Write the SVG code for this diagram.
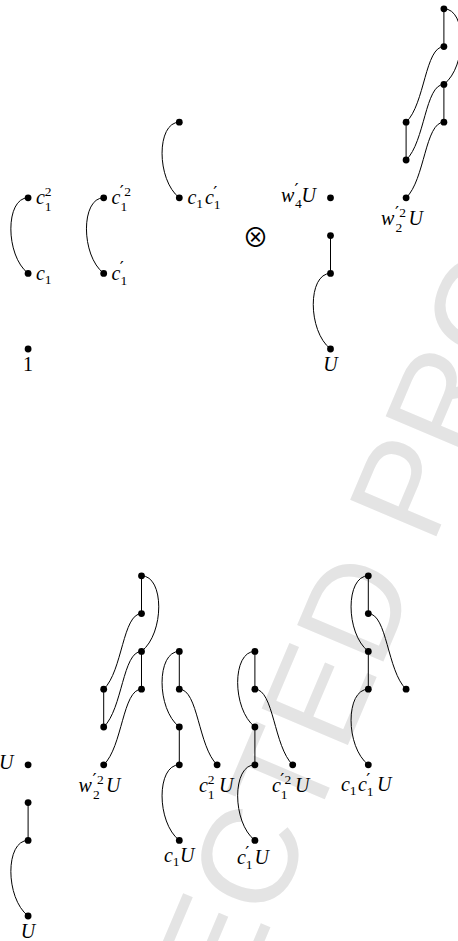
<svg xmlns="http://www.w3.org/2000/svg" width="458" height="941" viewBox="0 0 458 941">
<style>
.wm{font-family:"Liberation Sans",Arial,sans-serif;font-size:136px;fill:#e4e4e4}
.e{fill:none;stroke:#000;stroke-width:1}
.d{fill:#000}
.m{font-family:"Liberation Serif","Times New Roman",serif;font-style:italic;font-size:20px;fill:#000}
.s{font-style:normal;font-size:13.5px}
.p{font-family:"DejaVu Sans",sans-serif;font-style:normal;font-size:18px}
.r{font-family:"Liberation Serif","Times New Roman",serif;font-size:20px;fill:#000}
.o{font-family:"Noto Sans CJK JP","DejaVu Sans",sans-serif;font-size:26px;fill:#000}
</style>
<rect width="458" height="941" fill="#fff"/>
<text class="wm" transform="translate(4,1555) rotate(-67)">UNCORRECTED PROOF</text>

<g id="connectors">
<path class="e" d="M28.1,197.8 C5.1,197.8 5.1,255.4 28.1,273.4"/>
<path class="e" d="M103.7,197.8 C80.7,197.8 80.7,255.4 103.7,273.4"/>
<path class="e" d="M179.3,122.2 C156.3,122.2 156.3,179.8 179.3,197.8"/>
<path class="e" d="M330.5,235.6 V273.4"/>
<path class="e" d="M330.5,273.4 C307.5,273.4 307.5,331 330.5,349"/>
<path class="e" d="M443.9,8.8 V46.6"/>
<path class="e" d="M443.9,8.8 C466.9,8.8 466.9,66.4 443.9,84.4"/>
<path class="e" d="M443.9,46.6 C425,46.6 425,104.2 406.1,122.2"/>
<path class="e" d="M443.9,84.4 C425,84.4 425,142 406.1,160"/>
<path class="e" d="M443.9,122.2 C425,122.2 425,179.8 406.1,197.8"/>
<path class="e" d="M443.9,84.4 V122.2"/>
<path class="e" d="M406.1,122.2 V160"/>

<path class="e" d="M28.1,802.6 V840.4"/>
<path class="e" d="M28.1,840.4 C5.1,840.4 5.1,898 28.1,916"/>
<path class="e" d="M141.5,575.8 V613.6"/>
<path class="e" d="M141.5,575.8 C164.5,575.8 164.5,633.4 141.5,651.4"/>
<path class="e" d="M141.5,613.6 C122.6,613.6 122.6,671.2 103.7,689.2"/>
<path class="e" d="M141.5,651.4 C122.6,651.4 122.6,709 103.7,727"/>
<path class="e" d="M141.5,689.2 C122.6,689.2 122.6,746.8 103.7,764.8"/>
<path class="e" d="M141.5,651.4 V689.2"/>
<path class="e" d="M103.7,689.2 V727"/>

<path class="e" d="M179.3,651.4 V689.2"/>
<path class="e" d="M179.3,651.4 C156.3,651.4 156.3,709 179.3,727"/>
<path class="e" d="M179.3,689.2 C198.2,689.2 198.2,746.8 217.1,764.8"/>
<path class="e" d="M179.3,727 V764.8"/>
<path class="e" d="M179.3,764.8 C156.3,764.8 156.3,822.4 179.3,840.4"/>

<path class="e" d="M254.9,651.4 V689.2"/>
<path class="e" d="M254.9,651.4 C231.9,651.4 231.9,709 254.9,727"/>
<path class="e" d="M254.9,689.2 C273.8,689.2 273.8,746.8 292.7,764.8"/>
<path class="e" d="M254.9,727 V764.8"/>
<path class="e" d="M254.9,764.8 C231.9,764.8 231.9,822.4 254.9,840.4"/>

<path class="e" d="M368.3,575.8 V613.6"/>
<path class="e" d="M368.3,575.8 C345.3,575.8 345.3,633.4 368.3,651.4"/>
<path class="e" d="M368.3,613.6 C387.2,613.6 387.2,671.2 406.1,689.2"/>
<path class="e" d="M368.3,651.4 V689.2"/>
<path class="e" d="M368.3,689.2 C345.3,689.2 345.3,746.8 368.3,764.8"/>
</g>

<!-- top row -->
<g id="n-c1sq"><circle class="d" cx="28.1" cy="197.8" r="3.4"/>
<text class="m"><tspan x="36" y="204">c</tspan><tspan class="s" x="44.8" y="196">2</tspan><tspan class="s" x="44.8" y="211">1</tspan></text></g>
<g id="n-c1"><circle class="d" cx="28.1" cy="273.4" r="3.4"/>
<text class="m"><tspan x="36" y="279.5">c</tspan><tspan class="s" x="44.8" y="283.5">1</tspan></text></g>
<g id="n-c1psq"><circle class="d" cx="103.7" cy="197.8" r="3.4"/>
<text class="m"><tspan x="111.6" y="204">c</tspan><tspan class="p" x="119.8" y="198">′</tspan><tspan class="s" x="124.2" y="196">2</tspan><tspan class="s" x="120.4" y="211">1</tspan></text></g>
<g id="n-c1p"><circle class="d" cx="103.7" cy="273.4" r="3.4"/>
<text class="m"><tspan x="111.6" y="279.5">c</tspan><tspan class="p" x="119.8" y="274">′</tspan><tspan class="s" x="120.4" y="285">1</tspan></text></g>
<g id="n-c1c1p-top"><circle class="d" cx="179.3" cy="122.2" r="3.4"/></g>
<g id="n-c1c1p"><circle class="d" cx="179.3" cy="197.8" r="3.4"/>
<text class="m"><tspan x="187.5" y="204">c</tspan><tspan class="s" x="196.3" y="208">1</tspan><tspan x="205" y="204">c</tspan><tspan class="p" x="213.2" y="198.5">′</tspan><tspan class="s" x="213.8" y="209">1</tspan></text></g>
<g id="n-one"><circle class="d" cx="28.1" cy="349" r="3.4"/>
<text class="r" x="28.1" y="370.5" text-anchor="middle">1</text></g>
<g id="otimes"><text class="o" x="255.5" y="246.6" text-anchor="middle">⊗</text></g>
<g id="n-w4U"><circle class="d" cx="330.5" cy="197.8" r="3.4"/>
<text class="m"><tspan x="281" y="201.5">w</tspan><tspan class="p" x="294.4" y="196">′</tspan><tspan class="s" x="295" y="208">4</tspan><tspan x="301.5" y="201.5">U</tspan></text></g>
<g id="n-U-a"><circle class="d" cx="330.5" cy="235.6" r="3.4"/></g>
<g id="n-U-b"><circle class="d" cx="330.5" cy="273.4" r="3.4"/></g>
<g id="n-U"><circle class="d" cx="330.5" cy="349" r="3.4"/>
<text class="m" x="330.5" y="371" text-anchor="middle">U</text></g>
<g id="n-w2-r0"><circle class="d" cx="443.9" cy="8.8" r="3.4"/></g>
<g id="n-w2-r1"><circle class="d" cx="443.9" cy="46.6" r="3.4"/></g>
<g id="n-w2-r2"><circle class="d" cx="443.9" cy="84.4" r="3.4"/></g>
<g id="n-w2-r3"><circle class="d" cx="443.9" cy="122.2" r="3.4"/></g>
<g id="n-w2-l3"><circle class="d" cx="406.1" cy="122.2" r="3.4"/></g>
<g id="n-w2-l4"><circle class="d" cx="406.1" cy="160" r="3.4"/></g>
<g id="n-w2U"><circle class="d" cx="406.1" cy="197.8" r="3.4"/>
<text class="m"><tspan x="381" y="224.5">w</tspan><tspan class="p" x="394.9" y="219">′</tspan><tspan class="s" x="399.3" y="217">2</tspan><tspan class="s" x="395.5" y="231.5">2</tspan><tspan x="408.5" y="224.5">U</tspan></text></g>

<!-- bottom row -->
<g id="b-w4U"><circle class="d" cx="28.1" cy="764.8" r="3.4"/>
<text class="m"><tspan x="-21.4" y="768.5">w</tspan><tspan class="p" x="-8" y="763">′</tspan><tspan class="s" x="-7.4" y="775">4</tspan><tspan x="-0.9" y="768.5">U</tspan></text></g>
<g id="b-U-a"><circle class="d" cx="28.1" cy="802.6" r="3.4"/></g>
<g id="b-U-b"><circle class="d" cx="28.1" cy="840.4" r="3.4"/></g>
<g id="b-U"><circle class="d" cx="28.1" cy="916" r="3.4"/>
<text class="m" x="28.1" y="938" text-anchor="middle">U</text></g>
<g id="b-w2-r0"><circle class="d" cx="141.5" cy="575.8" r="3.4"/></g>
<g id="b-w2-r1"><circle class="d" cx="141.5" cy="613.6" r="3.4"/></g>
<g id="b-w2-r2"><circle class="d" cx="141.5" cy="651.4" r="3.4"/></g>
<g id="b-w2-r3"><circle class="d" cx="141.5" cy="689.2" r="3.4"/></g>
<g id="b-w2-l3"><circle class="d" cx="103.7" cy="689.2" r="3.4"/></g>
<g id="b-w2-l4"><circle class="d" cx="103.7" cy="727" r="3.4"/></g>
<g id="b-w2U"><circle class="d" cx="103.7" cy="764.8" r="3.4"/>
<text class="m"><tspan x="78.6" y="791.5">w</tspan><tspan class="p" x="92.5" y="786">′</tspan><tspan class="s" x="96.9" y="784">2</tspan><tspan class="s" x="93.1" y="798.5">2</tspan><tspan x="106.1" y="791.5">U</tspan></text></g>

<g id="b-c1-0"><circle class="d" cx="179.3" cy="651.4" r="3.4"/></g>
<g id="b-c1-1"><circle class="d" cx="179.3" cy="689.2" r="3.4"/></g>
<g id="b-c1-2"><circle class="d" cx="179.3" cy="727" r="3.4"/></g>
<g id="b-c1-3"><circle class="d" cx="179.3" cy="764.8" r="3.4"/></g>
<g id="b-c1sqU"><circle class="d" cx="217.1" cy="764.8" r="3.4"/>
<text class="m"><tspan x="199" y="791.5">c</tspan><tspan class="s" x="207.8" y="784">2</tspan><tspan class="s" x="207.8" y="798.5">1</tspan><tspan x="219" y="791.5">U</tspan></text></g>
<g id="b-c1U"><circle class="d" cx="179.3" cy="840.4" r="3.4"/>
<text class="m"><tspan x="164" y="862">c</tspan><tspan class="s" x="172.8" y="866">1</tspan><tspan x="180" y="862">U</tspan></text></g>

<g id="b-c1p-0"><circle class="d" cx="254.9" cy="651.4" r="3.4"/></g>
<g id="b-c1p-1"><circle class="d" cx="254.9" cy="689.2" r="3.4"/></g>
<g id="b-c1p-2"><circle class="d" cx="254.9" cy="727" r="3.4"/></g>
<g id="b-c1p-3"><circle class="d" cx="254.9" cy="764.8" r="3.4"/></g>
<g id="b-c1psqU"><circle class="d" cx="292.7" cy="764.8" r="3.4"/>
<text class="m"><tspan x="272" y="791.5">c</tspan><tspan class="p" x="280.2" y="786">′</tspan><tspan class="s" x="284.6" y="784">2</tspan><tspan class="s" x="280.8" y="798.5">1</tspan><tspan x="295" y="791.5">U</tspan></text></g>
<g id="b-c1pU"><circle class="d" cx="254.9" cy="840.4" r="3.4"/>
<text class="m"><tspan x="237" y="864">c</tspan><tspan class="p" x="245.2" y="859">′</tspan><tspan class="s" x="245.8" y="869">1</tspan><tspan x="254.5" y="864">U</tspan></text></g>

<g id="b-cc-0"><circle class="d" cx="368.3" cy="575.8" r="3.4"/></g>
<g id="b-cc-1"><circle class="d" cx="368.3" cy="613.6" r="3.4"/></g>
<g id="b-cc-2"><circle class="d" cx="368.3" cy="651.4" r="3.4"/></g>
<g id="b-cc-3"><circle class="d" cx="368.3" cy="689.2" r="3.4"/></g>
<g id="b-cc-r"><circle class="d" cx="406.1" cy="689.2" r="3.4"/></g>
<g id="b-c1c1pU"><circle class="d" cx="368.3" cy="764.8" r="3.4"/>
<text class="m"><tspan x="341" y="791">c</tspan><tspan class="s" x="349.8" y="795">1</tspan><tspan x="358" y="791">c</tspan><tspan class="p" x="366.2" y="786">′</tspan><tspan class="s" x="366.8" y="796">1</tspan><tspan x="377" y="791">U</tspan></text></g>
</svg>
